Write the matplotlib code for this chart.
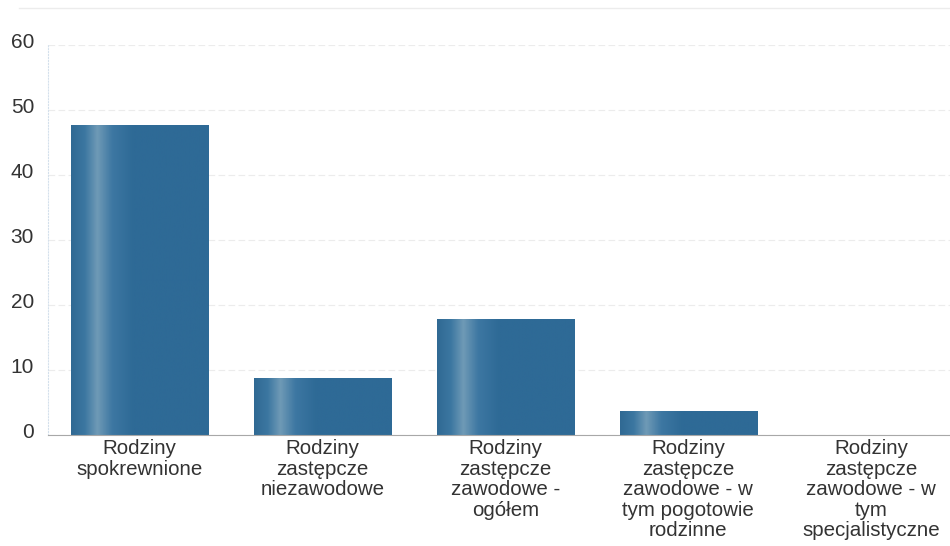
import numpy as np
import matplotlib.pyplot as plt
import matplotlib.transforms as mtransforms
from matplotlib.colors import LinearSegmentedColormap

categories = [
    "Rodziny\nspokrewnione",
    "Rodziny\nzastępcze\nniezawodowe",
    "Rodziny\nzastępcze\nzawodowe -\nogółem",
    "Rodziny\nzastępcze\nzawodowe - w\ntym pogotowie\nrodzinne",
    "Rodziny\nzastępcze\nzawodowe - w\ntym\nspecjalistyczne",
]
values = [47.7, 8.8, 17.9, 3.7, 0]
y_ticks = [0, 10, 20, 30, 40, 50, 60]

BAR_COLOR = "#2e6a96"
bar_cmap = LinearSegmentedColormap.from_list(
    "bar", [(0.0, "#306993"), (0.1, "#3c77a1"), (0.19, "#6f9ab6"),
            (0.3, "#3d77a2"), (0.45, "#2e6a96"), (1.0, "#2e6a96")])


def main():
    plt.rcParams['font.family'] = ['Liberation Sans', 'DejaVu Sans']
    fig = plt.figure(figsize=(9.5, 5.46), dpi=100)
    ax = fig.add_axes([0.0505, 0.2033, 0.9495, 0.7143])

    x = np.arange(len(categories))
    bars = ax.bar(x, values, width=0.75, color=BAR_COLOR, zorder=2)

    # gradient highlight inside each bar
    grad = np.linspace(0, 1, 256).reshape(1, -1)
    for b in bars:
        if b.get_height() <= 0:
            continue
        x0, w, h = b.get_x(), b.get_width(), b.get_height()
        im = ax.imshow(grad, cmap=bar_cmap, aspect='auto',
                       extent=[x0, x0 + w, 0, h], zorder=3)
        im.set_clip_path(b)

    ax.set_xlim(-0.5, 4.43)
    ax.set_ylim(0, 60)
    ax.set_yticks(y_ticks)
    ax.set_xticks(x)
    ax.set_xticklabels(categories, fontsize=14.8, color="#333333", linespacing=1.1)
    ax.tick_params(axis='y', labelsize=15, colors="#333333", length=0, pad=10)
    ax.tick_params(axis='x', length=0, pad=3)

    # y labels sit slightly above their grid lines
    shift = mtransforms.ScaledTranslation(0, 4 / 100, fig.dpi_scale_trans)
    for lab in ax.get_yticklabels():
        lab.set_transform(lab.get_transform() + shift)

    ax.grid(axis='y', color="#ececec", linewidth=0.8, linestyle=(0, (6, 3)), zorder=0)
    for s in ['top', 'right']:
        ax.spines[s].set_visible(False)
    ax.spines['left'].set_color("#d4e0ec")
    ax.spines['left'].set_linestyle(':')
    ax.spines['bottom'].set_color("#a8a8a8")
    ax.spines['bottom'].set_linewidth(0.8)
    ax.spines['bottom'].set_zorder(4)

    # faint rule at the top of the picture
    fig.add_artist(plt.Line2D([0.02, 1.0], [0.985, 0.985], color="#ececec",
                              linewidth=1.0, transform=fig.transFigure))

    fig.savefig('out.png', dpi=100)


if __name__ == "__main__":
    main()
